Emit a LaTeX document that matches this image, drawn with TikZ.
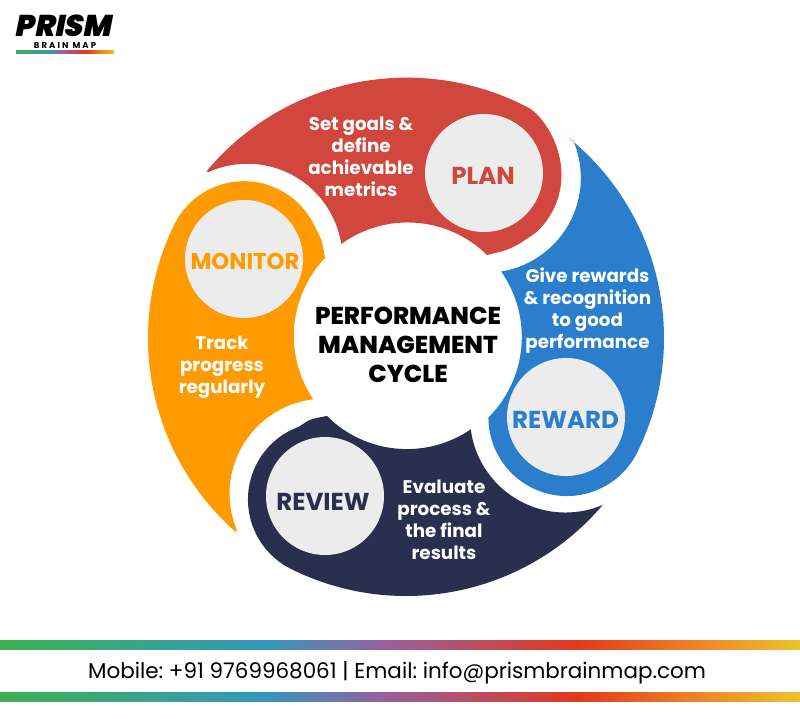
\documentclass[tikz,border=0pt]{standalone}
\usepackage{fontspec}
\setmainfont{Poppins}
\newfontfamily\logofont[LetterSpace=25]{Poppins}
\newfontfamily\heavyfont{Poppins ExtraBold}
\newfontfamily\blackfont{Poppins Black}
\frenchspacing
\definecolor{planred}{HTML}{D2473D}
\definecolor{rewardblue}{HTML}{2A7ECB}
\definecolor{reviewnavy}{HTML}{29304F}
\definecolor{monitororange}{HTML}{FF9A00}
\definecolor{badgegrey}{HTML}{ECECEC}
\definecolor{barA}{HTML}{3FB04F}
\definecolor{barB}{HTML}{3597BD}
\definecolor{barC}{HTML}{96609F}
\definecolor{barD}{HTML}{E03A1E}
\definecolor{barE}{HTML}{EE7F25}
\definecolor{barF}{HTML}{EAC42A}
\pgfdeclarehorizontalshading{rainbow}{100bp}{
  color(0bp)=(barA); color(25bp)=(barA); color(41.5bp)=(barB); color(49bp)=(barC);
  color(61bp)=(barD); color(68bp)=(barE); color(75bp)=(barF); color(100bp)=(barF)}
\begin{document}
\begin{tikzpicture}[x=1pt,y=-1pt]
  \tikzstyle{badge}=[circle, fill=badgegrey, minimum size=118pt, inner sep=0pt]
  \tikzstyle{badgetext}=[inner sep=0pt, font=\bfseries\fontsize{24.5}{24}\selectfont]
  \tikzstyle{blurb}=[white, align=center, inner sep=0pt, font=\bfseries\fontsize{18.3}{22}\selectfont]
  \tikzstyle{rainbowbar}=[shading=rainbow, minimum width=800pt, minimum height=9pt, inner sep=0pt]
  \useasboundingbox (0,0) rectangle (800,718);
  \fill[white] (0,0) rectangle (800,718);
  \coordinate (ring) at (406,338);

  \fill[planred] (ring) ++(140:260pt) arc[start angle=140, end angle=62, radius=261pt]
    .. controls (541,115) and (561.5,142) .. (561.5,175)
    arc[start angle=0, end angle=-48, radius=77.5pt] .. controls (512,249) .. (487,255)
    arc[start angle=45.4, end angle=126, radius=113pt]
    arc[start angle=8.9, end angle=114.4, radius=95pt] -- cycle;
  \fill[rewardblue] (ring) ++(50.8:258pt) arc[start angle=50.8, end angle=-26.3, radius=258pt]
    arc[start angle=-26.3, end angle=-180, radius=78.5pt]
    arc[start angle=-45, end angle=35, radius=114pt]
    arc[start angle=-80.7, end angle=22.7, radius=95pt] -- cycle;
  \fill[reviewnavy] (ring) ++(-40.1:258pt) arc[start angle=-40.1, end angle=-116.5, radius=258pt]
    arc[start angle=-116.5, end angle=-250, radius=77.5pt] .. controls (310,419) .. (327,416)
    arc[start angle=-135, end angle=-55.6, radius=113pt]
    arc[start angle=-172.6, end angle=-67, radius=95.5pt] -- cycle;
  \fill[monitororange] (ring) ++(228.9:258pt) arc[start angle=228.9, end angle=154, radius=258pt]
    arc[start angle=154, end angle=25, radius=77.8pt] .. controls (322,240) .. (325,258)
    arc[start angle=136.4, end angle=214.1, radius=113pt]
    arc[start angle=96.8, end angle=202.2, radius=95pt] -- cycle;

  \node[badge] (plan) at (484,173) {};
  \node[badge] (monitor) at (244,259) {};
  \node[badge] (review) at (325,496) {};
  \node[badge] (reward) at (566,417) {};
  \node[badgetext, text=planred] (plan_label) at (483,176) {PLAN};
  \node[badgetext, text=monitororange, font=\bfseries\fontsize{22.8}{24}\selectfont] (monitor_label) at (245,261) {MONITOR};
  \node[badgetext, text=reviewnavy] (review_label) at (323,502) {REVIEW};
  \node[badgetext, text=rewardblue] (reward_label) at (565.5,420) {REWARD};

  \node[blurb] (plan_text) at (361,157) {Set goals \&\\define\\achievable\\metrics};
  \node[blurb] (reward_text) at (587.5,311) {Give rewards\\\& recognition\\to good\\performance};
  \node[blurb] (review_text) at (444,520) {Evaluate\\process \&\\the final\\results};
  \node[blurb] (monitor_text) at (222,367) {Track\\progress\\regularly};

  \node[align=center, inner sep=0pt, font=\heavyfont\fontsize{24.4}{29}\selectfont] (cycle) at (408,345) {PERFORMANCE\\MANAGEMENT\\CYCLE};

  \node[inner sep=0pt, text depth=0pt, font=\blackfont\fontsize{30}{30}\selectfont, xslant=0.2] (logo) at (65,26) {PRISM};
  \node[inner sep=0pt, font=\logofont\bfseries\fontsize{8.5}{8}\selectfont] (logo_sub) at (65,45.5) {BRAIN MAP};
  \node[shading=rainbow, minimum width=98pt, minimum height=3.5pt, inner sep=0pt] (logo_bar) at (65,52) {};

  \node[rainbowbar] (bar_top) at (400,644.5) {};
  \node[rainbowbar] (bar_bottom) at (400,696.5) {};
  \node[inner sep=0pt, font=\fontsize{21.45}{24}\selectfont] (contact) at (397,673) {Mobile: +91 9769968061 | Email: info@prismbrainmap.com};
\end{tikzpicture}
\end{document}
